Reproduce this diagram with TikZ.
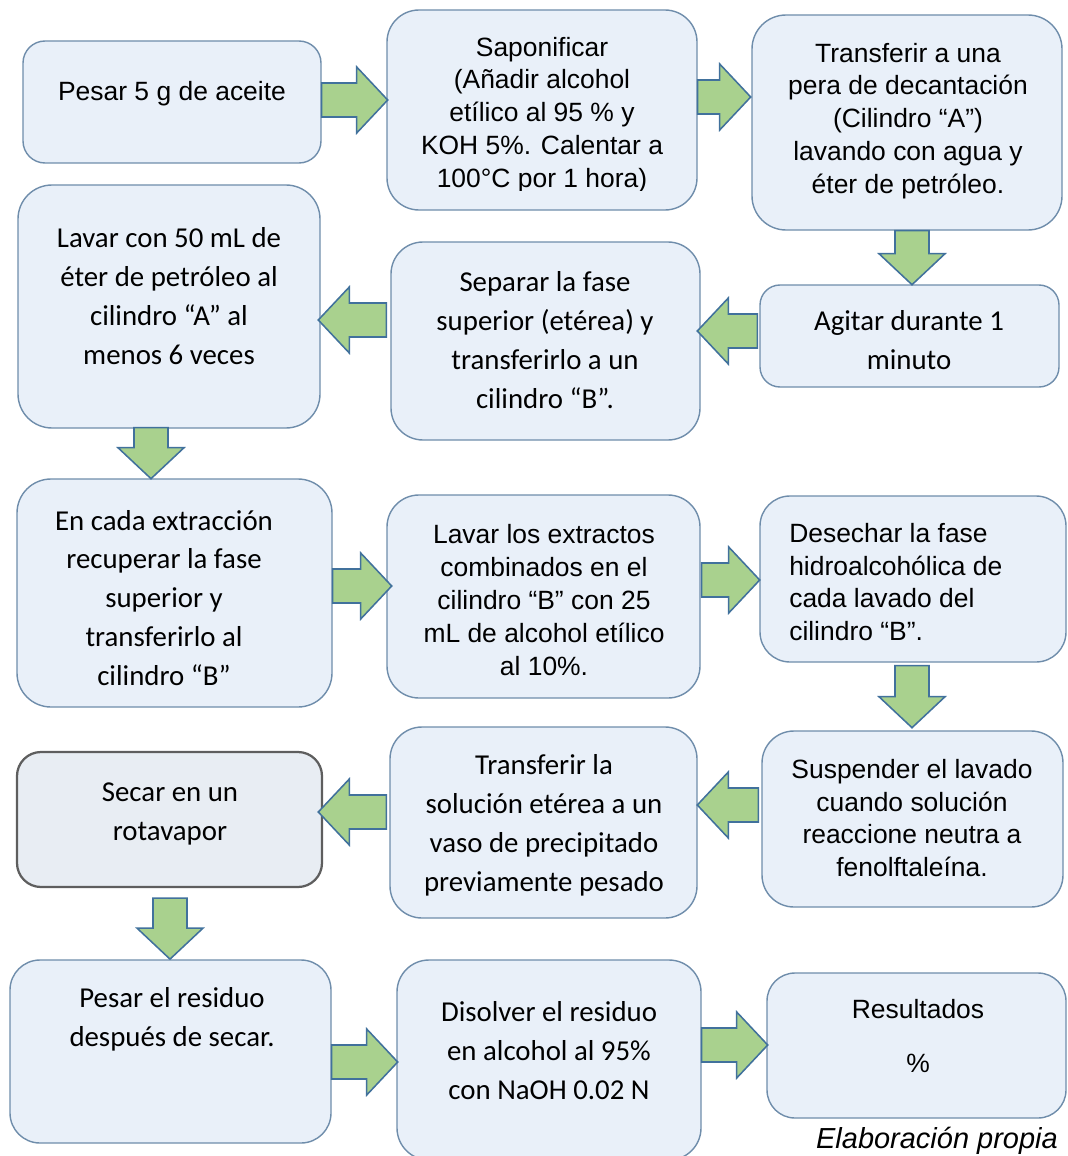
\documentclass[tikz,border=0pt]{standalone}
\usepackage{fontspec}
\newfontfamily\arialfont{Liberation Sans}
\newfontfamily\calibrifont{Carlito}
\usetikzlibrary{calc}

\definecolor{boxfill}{HTML}{E9F0F9}
\definecolor{boxline}{HTML}{6F8DAB}
\definecolor{greyline}{HTML}{5E5E5E}
\definecolor{greyfill}{HTML}{E8EDF3}
\definecolor{arrowfill}{HTML}{A9D18E}
\definecolor{arrowline}{HTML}{41719C}

% block arrow: tail point, direction angle, length (in px units)
\newcommand{\blockarrow}[3]{%
  \draw[greenarrow, shift={(#1)}, rotate=#2]
    (0,-17) -- ({#3-31},-17) -- ({#3-31},-33) -- (#3,0)
    -- ({#3-31},33) -- ({#3-31},17) -- (0,17) -- cycle;}

\begin{document}
\begin{tikzpicture}[x=0.025cm, y=-0.025cm]

    % Styles
    \tikzset{
        stepbox/.style={draw=boxline, line width=1pt, fill=boxfill, rounded corners=0.75cm},
        boxsize/.style 2 args={minimum width=#1*0.025cm, minimum height=#2*0.025cm, inner sep=0pt},
        arialtxt/.style={font=\arialfont\fontsize{18.8}{23.4}\selectfont, align=center, inner sep=0pt},
        calibritxt/.style={font=\calibrifont\fontsize{20.5}{27.7}\selectfont, align=center, inner sep=0pt},
        greenarrow/.style={draw=arrowline, line width=1.1pt, fill=arrowfill, line join=miter}
    }

    \clip (0,0) rectangle (1067,1156);

    % Row 1
    \node[stepbox, boxsize={298}{122}, rounded corners=0.55cm] (pesar) at (172,102) {};
    \node[arialtxt] (pesar-txt) at (172,94) {Pesar 5 g de aceite};

    \node[stepbox, boxsize={310}{200}, rounded corners=0.8cm] (sapon) at (542,110) {};
    \begin{scope}
        \clip (387,10) rectangle (697,190);
        \node[arialtxt] (sapon-txt) at (542,115) {Saponificar\\(Añadir alcohol\\etílico al 95 \% y\\KOH 5\%. Calentar a\\100°C por 1 hora)};
    \end{scope}

    \node[stepbox, boxsize={310}{215}, rounded corners=0.85cm] (transf) at (907,122.5) {};
    \node[arialtxt] (transf-txt) at (908,121) {Transferir a una\\pera de decantación\\(Cilindro “A”)\\lavando con agua y\\éter de petróleo.};

    % Row 2
    \node[stepbox, boxsize={302}{243}, rounded corners=0.85cm] (lavar) at (169,306.5) {};
    \node[calibritxt] (lavar-txt) at (169,296) {Lavar con 50 mL de\\éter de petróleo al\\cilindro “A” al\\menos 6 veces};

    \node[stepbox, boxsize={309}{198}, rounded corners=0.8cm] (separar) at (545.5,341) {};
    \node[calibritxt] (separar-txt) at (545,340) {Separar la fase\\superior (etérea) y\\transferirlo a un\\cilindro “B”.};

    \node[stepbox, boxsize={299}{102}, rounded corners=0.5cm] (agitar) at (909.5,336) {};
    \node[calibritxt] (agitar-txt) at (909,340) {Agitar durante 1\\minuto};

    % Row 3
    \node[stepbox, boxsize={315}{228}, rounded corners=0.85cm] (extrac) at (174.5,593) {};
    \node[calibritxt] (extrac-txt) at (164,598) {En cada extracción\\recuperar la fase\\superior y\\transferirlo al\\cilindro “B”};

    \node[stepbox, boxsize={313}{203}, rounded corners=0.8cm] (lavext) at (543.5,596.5) {};
    \node[arialtxt] (lavext-txt) at (544,600) {Lavar los extractos\\combinados en el\\cilindro “B” con 25\\mL de alcohol etílico\\al 10\%.};

    \node[stepbox, boxsize={306}{166}, rounded corners=0.75cm] (desech) at (913,579) {};
    \node[arialtxt, align=left, anchor=west] (desech-txt) at (789,582) {Desechar la fase\\hidroalcohólica de\\cada lavado del\\cilindro “B”.};

    % Row 4
    \node[stepbox, boxsize={305}{135}, rounded corners=0.6cm, draw=greyline, line width=1.6pt, fill=greyfill] (secar) at (169.5,819.5) {};
    \node[calibritxt] (secar-txt) at (170,814) {Secar en un\\rotavapor};

    \node[stepbox, boxsize={307}{191}, rounded corners=0.8cm] (transol) at (543.5,822.5) {};
    \node[calibritxt] (transol-txt) at (544,825) {Transferir la\\solución etérea a un\\vaso de precipitado\\previamente pesado};

    \node[stepbox, boxsize={301}{176}, rounded corners=0.8cm] (suspend) at (912.5,819) {};
    \node[arialtxt] (suspend-txt) at (912,818) {Suspender el lavado\\cuando solución\\reaccione neutra a\\fenolftaleína.};

    % Row 5
    \node[stepbox, boxsize={321}{183}, rounded corners=0.75cm] (pesres) at (170.5,1051.5) {};
    \node[calibritxt] (pesres-txt) at (172,1019) {Pesar el residuo\\después de secar.};

    \node[stepbox, boxsize={304}{200}, rounded corners=0.8cm] (disolv) at (549,1060) {};
    \node[calibritxt] (disolv-txt) at (549,1051) {Disolver el residuo\\en alcohol al 95\%\\con NaOH 0.02 N};

    \node[stepbox, boxsize={299}{145}, rounded corners=0.7cm] (result) at (916.5,1045.5) {};
    \node[arialtxt] (result-txt) at (918,1036) {Resultados\\[0.55cm]\%};

    \node[font=\arialfont\itshape\fontsize{20.6}{24}\selectfont, anchor=east, inner sep=0pt] (source) at (1058,1141) {Elaboración propia};

    % Flow arrows
    \blockarrow{$(pesar.east)+(0,-2)$}{0}{66}
    \blockarrow{$(sapon.east)+(0,-13)$}{0}{53}
    \blockarrow{$(transf.south)+(5,0)$}{-90}{54}
    \blockarrow{$(agitar.west)+(-2,-5)$}{180}{60}
    \blockarrow{$(separar.west)+(-4,-21)$}{180}{68}
    \blockarrow{$(lavar.south)+(-18,-1)$}{-90}{51}
    \blockarrow{$(extrac.east)+(0,-7)$}{0}{59}
    \blockarrow{$(lavext.east)+(1,-16.5)$}{0}{58}
    \blockarrow{$(desech.south)+(-1,3)$}{-90}{62}
    \blockarrow{$(suspend.west)+(-3,-14)$}{180}{61}
    \blockarrow{$(transol.west)+(-3,-10.5)$}{180}{68}
    \blockarrow{$(secar.south)+(0.5,10)$}{-90}{61}
    \blockarrow{$(pesres.east)+(0,10.5)$}{0}{66}
    \blockarrow{$(disolv.east)+(0,-15)$}{0}{66}

\end{tikzpicture}
\end{document}
